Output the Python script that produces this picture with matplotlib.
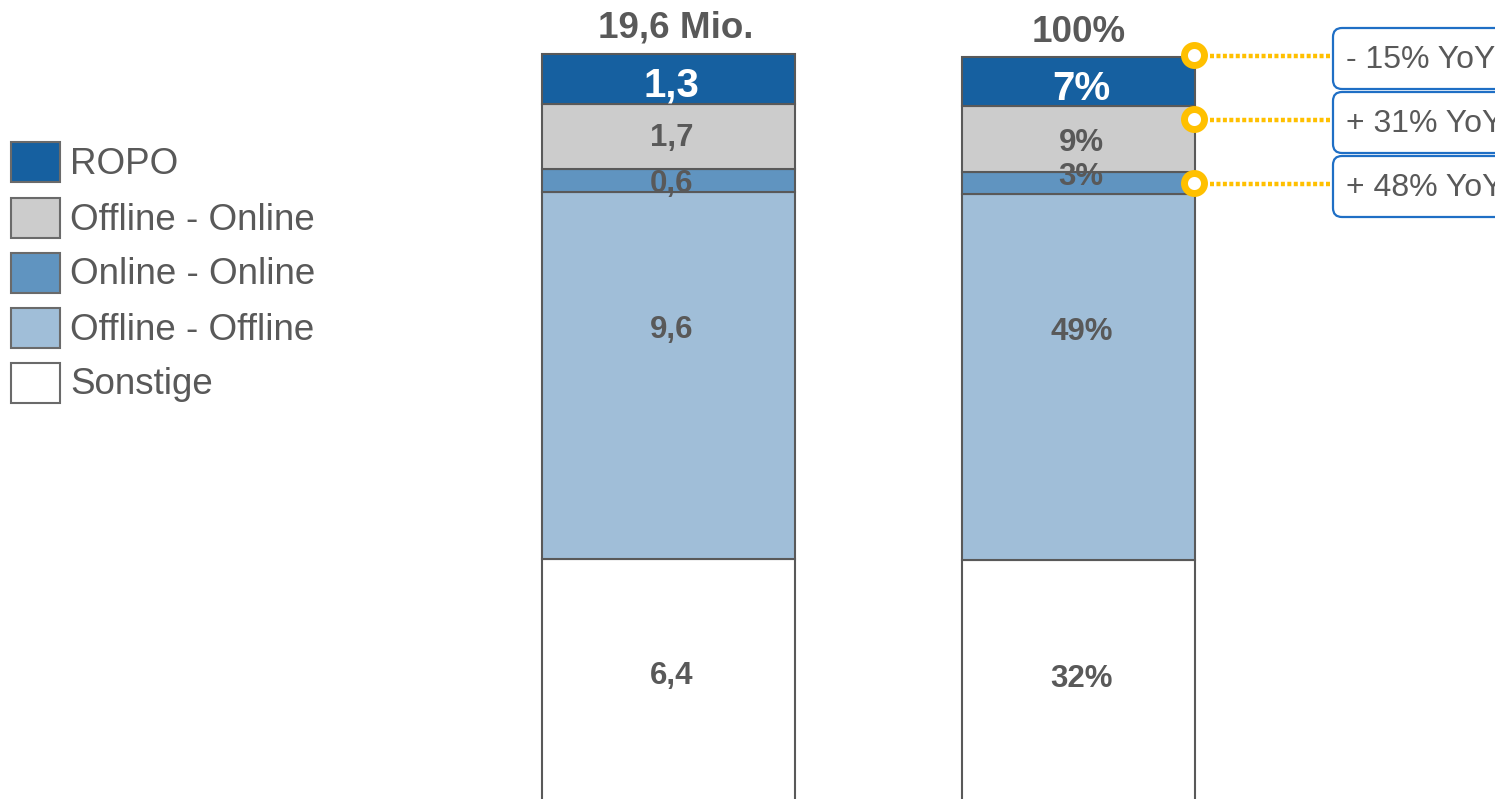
import matplotlib.pyplot as plt
from matplotlib.patches import Rectangle, FancyBboxPatch

plt.rcParams['font.family'] = ['Liberation Sans', 'DejaVu Sans']

# daten
segmente = ['Sonstige', 'Offline - Offline', 'Online - Online', 'Offline - Online', 'ROPO']
farben = ['#FFFFFF', '#A0BED8', '#6094C0', '#CCCCCC', '#1660A0']
mio_werte = [6.4, 9.6, 0.6, 1.7, 1.3]
mio_labels = ['6,4', '9,6', '0,6', '1,7', '1,3']
anteil_werte = [32.6, 49.0, 3.0, 8.8, 6.6]
anteil_labels = ['32%', '49%', '3%', '9%', '7%']
titel = ['19,6 Mio.', '100%']
yoy_labels = ['- 15% YoY', '+ 31% YoY', '+ 48% YoY']

grau = '#595959'
W, H = 1495, 799

fig = plt.figure(figsize=(W / 100, H / 100), dpi=100)
ax1 = fig.add_axes([0, 0, 1, 1])
ax2 = fig.add_axes([0, 0, 1, 1])
ov = fig.add_axes([0, 0, 1, 1])
for a in (ax1, ax2, ov):
    a.set_axis_off()
    a.patch.set_alpha(0)


def stapel(ax, werte, labels, lab_pos, titel_txt, titel_off):
    unten = 0
    for i, (v, lab) in enumerate(zip(werte, labels)):
        ax.bar(0, v, bottom=unten, width=1, color=farben[i],
               edgecolor=grau, linewidth=1.5)
        weiss = segmente[i] == 'ROPO'
        ax.annotate(lab, (0, unten + lab_pos[i] * v), xytext=(2, -1.5),
                    textcoords='offset points', ha='center', va='center',
                    fontsize=29 if weiss else 22.5, fontweight='bold',
                    color='white' if weiss else grau)
        unten += v
    ax.annotate(titel_txt, (0, unten), xytext=titel_off,
                textcoords='offset points', ha='center', va='baseline',
                fontsize=26.5, fontweight='bold', color=grau)


# balken 1 (Mio.)
ax1.set_xlim(-0.5 - 542 / 253, -0.5 - 542 / 253 + W / 253)
ax1.set_ylim(4 / 38.2, 4 / 38.2 + H / 38.2)
stapel(ax1, mio_werte, mio_labels, [0.53, 0.63, 0.41, 0.5, 0.42], titel[0], (5, 12))

# balken 2 (Anteil)
ax2.set_xlim(-0.5 - 962 / 233, -0.5 - 962 / 233 + W / 233)
ax2.set_ylim(5 / 7.47, 5 / 7.47 + H / 7.47)
stapel(ax2, anteil_werte, anteil_labels, [0.52, 0.63, 0.86, 0.48, 0.40], titel[1], (0, 11))

# overlay in pixeln
ov.set_xlim(0, W)
ov.set_ylim(H, 0)

# legende
leg_y = [162, 218, 273, 328, 383]
for y, name in zip(leg_y, segmente[::-1]):
    c = farben[segmente.index(name)]
    ov.add_patch(Rectangle((11, y - 20), 49, 40, facecolor=c,
                           edgecolor='#6a6a6a', linewidth=1.5))
    ov.text(70, y + 2, name, ha='left', va='center', fontsize=26.5, color=grau)

# YoY kaesten
box_y = [58, 122, 186]
for y, txt in zip(box_y, yoy_labels):
    ov.plot([1210, 1332], [y - 2, y - 2], color='#FFC000', linewidth=3.2,
            dashes=(0.9, 0.55), dash_capstyle='butt')
    ov.plot(1194, y - 3, marker='o', markersize=14.4, markeredgewidth=5,
            markerfacecolor='white', markeredgecolor='#FFC000', zorder=5)
    ov.add_patch(FancyBboxPatch((1333, y - 30), 240, 61,
                                boxstyle='round,pad=0,rounding_size=9',
                                facecolor='white', edgecolor='#1F6FC5',
                                linewidth=1.6))
    ov.text(1346, y + 2, txt, ha='left', va='center', fontsize=23, color=grau)

fig.savefig('out.png', dpi=100)
